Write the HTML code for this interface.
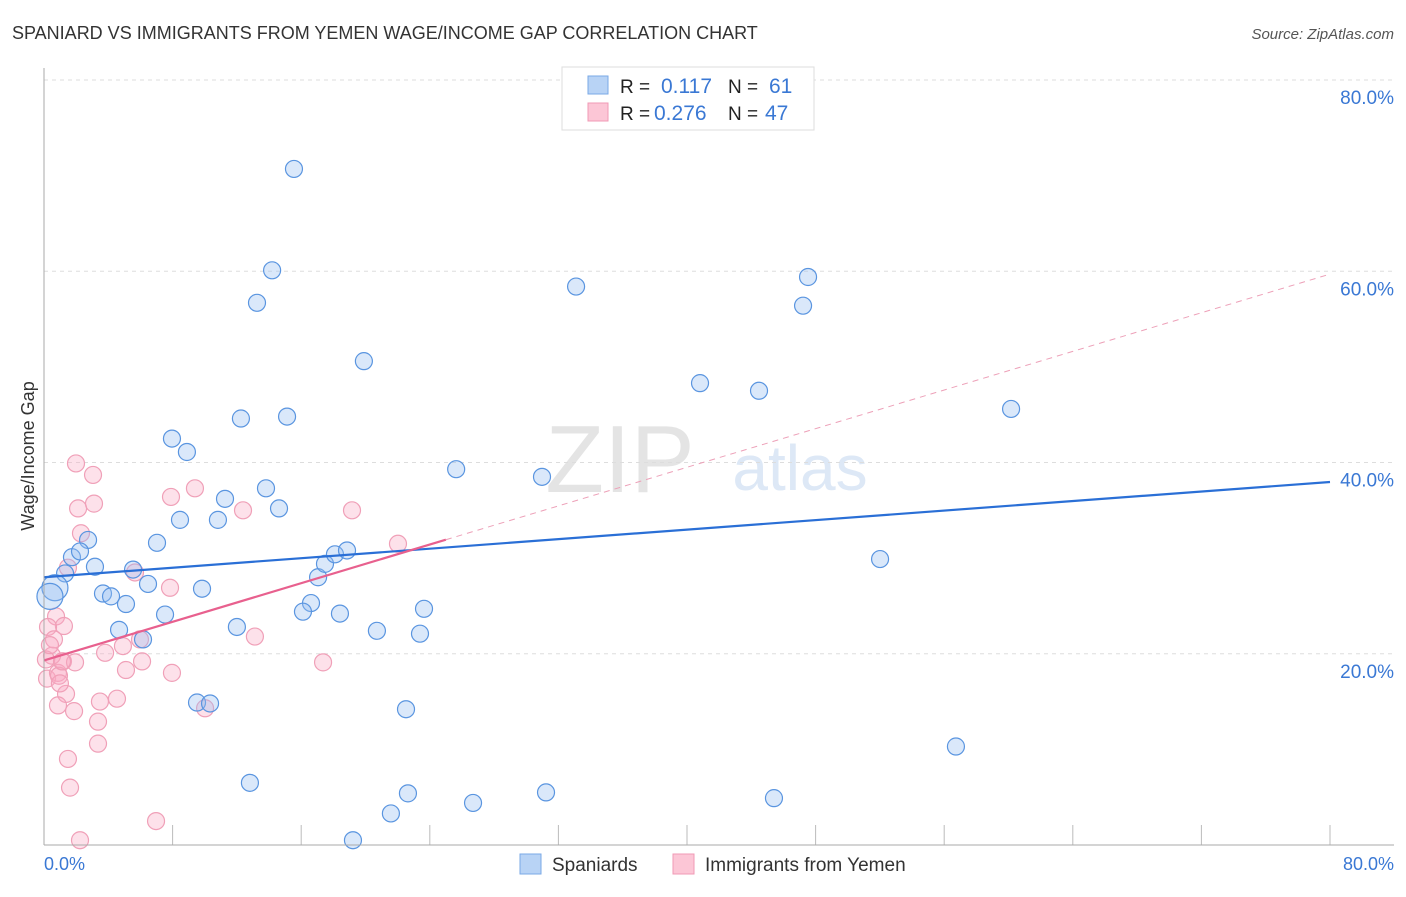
<!DOCTYPE html>
<html><head><meta charset="utf-8"><style>
body{margin:0;background:#fff;font-family:"Liberation Sans",sans-serif}
svg text{font-family:"Liberation Sans",sans-serif}
</style></head><body>
<svg width="1406" height="892" id="c">
<text x="12" y="39" font-size="18" fill="#333">SPANIARD VS IMMIGRANTS FROM YEMEN WAGE/INCOME GAP CORRELATION CHART</text>
<text x="1394" y="39" font-size="15" fill="#555" text-anchor="end" font-style="italic">Source: ZipAtlas.com</text>
<text x="34" y="456" font-size="18" fill="#333" text-anchor="middle" transform="rotate(-90 34 456)">Wage/Income Gap</text>
<text x="620" y="492" font-size="96" fill="#e4e4e4" font-family="Liberation Serif" text-anchor="middle">ZIP</text>
<text x="800" y="490" font-size="64" fill="#dde8f6" text-anchor="middle">atlas</text>
<g id="grid"></g><g id="pts"></g><g id="lines"></g>
<line x1="44" y1="68" x2="44" y2="845" stroke="#aaa"/>
<line x1="44" y1="845" x2="1394" y2="845" stroke="#aaa"/>
<text x="44" y="870" font-size="18" fill="#3a78d4">0.0%</text>
<text x="1394" y="870" font-size="18" fill="#3a78d4" text-anchor="end">80.0%</text>
<g>
<rect x="562" y="67" width="252" height="63" fill="#fff" stroke="#ddd"/>
<rect x="588" y="76" width="20" height="18" fill="#b8d3f5" stroke="#7aa8e6"/>
<rect x="588" y="103" width="20" height="18" fill="#fcc6d6" stroke="#f09ab5"/>
<text x="620" y="93" font-size="19" fill="#222">R = </text><text x="661" y="93" font-size="21" fill="#3a78d4">0.117</text>
<text x="728" y="93" font-size="19" fill="#222">N = </text><text x="769" y="93" font-size="21" fill="#3a78d4">61</text>
<text x="620" y="120" font-size="19" fill="#222">R = </text><text x="654" y="120" font-size="21" fill="#3a78d4">0.276</text>
<text x="728" y="120" font-size="19" fill="#222">N = </text><text x="765" y="120" font-size="21" fill="#3a78d4">47</text>
</g>
<g>
<rect x="520" y="854" width="21" height="20" fill="#b8d3f5" stroke="#7aa8e6"/>
<text x="552" y="871" font-size="19" fill="#333">Spaniards</text>
<rect x="673" y="854" width="21" height="20" fill="#fcc6d6" stroke="#f09ab5"/>
<text x="705" y="871" font-size="19" fill="#333">Immigrants from Yemen</text>
</g>
</svg>
<script>
const yTicks=[20,40,60,80];
const xTicks=[8,16,24,32,40,48,56,64,72,80];
const blueX=[15.55,14.19,13.25,33.1,47.53,47.22,19.9,40.81,44.48,60.16,12.25,15.12,7.96,8.89,25.64,30.98,13.81,11.26,14.62,8.46,10.82,7.03,2.74,1.74,2.24,3.17,1.31,5.54,6.47,9.83,3.67,4.17,5.1,16.61,16.11,18.41,23.64,7.53,4.67,12.0,20.71,23.39,6.16,9.52,10.33,22.52,52.01,56.73,12.81,22.64,31.23,26.69,45.41,21.58,19.22,17.05,17.48,18.1,18.85,0.68,0.37];
const blueY=[70.7,60.1,56.7,58.4,59.4,56.4,50.6,48.3,47.5,45.6,44.6,44.8,42.5,41.1,39.3,38.5,37.3,36.2,35.2,34.0,34.0,31.6,31.9,30.1,30.7,29.1,28.4,28.8,27.3,26.8,26.3,26.0,25.2,25.3,24.4,24.2,24.7,24.1,22.5,22.8,22.4,22.1,21.5,14.9,14.8,14.2,29.9,10.3,6.5,5.4,5.5,4.4,4.9,3.3,0.5,28.0,29.4,30.4,30.8,26.9,26.0];
const pinkX=[1.99,3.05,2.12,3.11,2.3,7.9,9.39,12.38,19.16,22.02,5.66,1.49,7.84,0.75,1.24,0.25,5.97,4.91,13.12,3.8,0.19,0.87,1.18,0.5,1.93,6.1,5.1,17.36,7.96,0.93,1.37,0.87,3.48,4.54,1.87,3.36,3.36,10.02,1.49,1.62,6.97,2.24,0.99,0.62,0.12,0.37,1.12];
const pinkY=[39.9,38.7,35.2,35.7,32.6,36.4,37.3,35.0,35.0,31.5,28.5,29.0,26.9,23.9,22.9,22.8,21.5,20.8,21.8,20.1,17.4,18.0,19.2,19.8,19.1,19.2,18.3,19.1,18.0,17.7,15.8,14.6,15.0,15.3,14.0,12.9,10.6,14.3,9.0,6.0,2.5,0.5,16.9,21.5,19.4,20.9,19.2];
const blueTrend=[28.0,0.1245];
const pinkTrend=[19.3,0.505];
const ns='http://www.w3.org/2000/svg';
const X0=44,XS=16.075,Y0=845,YS=9.5625;
function sx(v){return X0+v*XS}
function sy(v){return Y0-v*YS}
function mk(t,a,p){const e=document.createElementNS(ns,t);for(const k in a)e.setAttribute(k,a[k]);p.appendChild(e);return e}
const grid=document.getElementById('grid');
yTicks.forEach(v=>{
const l=mk('line',{x1:44,x2:1394,y1:sy(v),y2:sy(v),stroke:'#ddd','stroke-dasharray':'4,4'},grid);


const t=mk('text',{x:1394,y:sy(v)+24,'font-size':19,fill:'#3a78d4','text-anchor':'end'},grid);
t.textContent=v.toFixed(1)+'%';


});
xTicks.forEach(v=>{
const l=mk('line',{x1:sx(v),x2:sx(v),y1:825,y2:845,stroke:'#bbb'},grid);


});
const pts=document.getElementById('pts');
pinkX.forEach((v,i)=>{
const c=mk('circle',{cx:sx(v),cy:sy(pinkY[i]),r:8.5,fill:'rgba(248,170,195,0.35)',stroke:'#f0a0b8','stroke-width':1.2},pts);


});
blueX.forEach((v,i)=>{
const c=mk('circle',{cx:sx(v),cy:sy(blueY[i]),r:i>=59?13:8.5,fill:'rgba(150,190,240,0.35)',stroke:'#5a95e0','stroke-width':1.2},pts);


});
const lines=document.getElementById('lines');
const fb=[blueTrend[1],blueTrend[0]],fp=[pinkTrend[1],pinkTrend[0]];
let l=mk('line',{x1:sx(0),y1:sy(fb[1]),x2:sx(80),y2:sy(fb[1]+fb[0]*80),stroke:'#2a6fd6','stroke-width':2.2},lines);


l=mk('line',{x1:sx(0),y1:sy(fp[1]),x2:sx(25),y2:sy(fp[1]+fp[0]*25),stroke:'#e8608e','stroke-width':2.2},lines);


l=mk('line',{x1:sx(25),y1:sy(fp[1]+fp[0]*25),x2:sx(80),y2:sy(fp[1]+fp[0]*80),stroke:'#eda0b8','stroke-width':1,'stroke-dasharray':'6,5'},lines);


</script>
</body></html>
